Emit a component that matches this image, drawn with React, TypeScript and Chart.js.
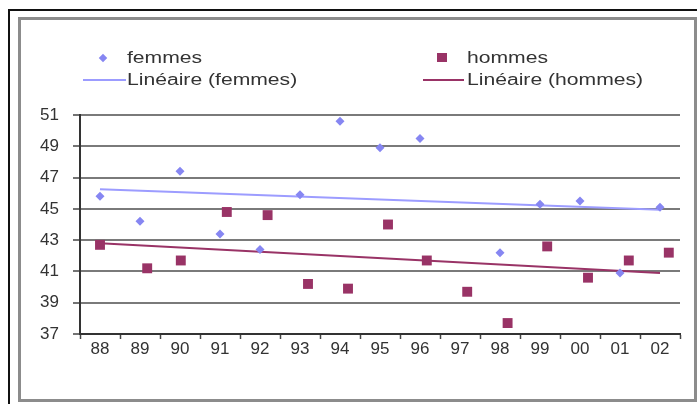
import React, { useEffect, useRef } from "react";
import { Chart, registerables } from "chart.js";

Chart.register(...registerables);

// ---- data ----
const categories = ["88", "89", "90", "91", "92", "93", "94", "95", "96", "97", "98", "99", "00", "01", "02"];
const femmesYears = [1988, 1989, 1990, 1991, 1992, 1993, 1994, 1995, 1996, 1998, 1999, 2000, 2001, 2002];
const femmesValues = [45.8, 44.2, 47.4, 43.4, 42.4, 45.9, 50.6, 48.9, 49.5, 42.2, 45.3, 45.5, 40.9, 45.1];
const hommesYears = [1988.0, 1989.18, 1990.02, 1991.17, 1992.19, 1993.2, 1994.2, 1995.2, 1996.17, 1997.18, 1998.19, 1999.18, 2000.2, 2001.22, 2002.22];
const hommesValues = [42.7, 41.2, 41.7, 44.8, 44.6, 40.2, 39.9, 44.0, 41.7, 39.7, 37.7, 42.6, 40.6, 41.7, 42.2];
const trendYears = [1988, 2002];
const trendFemmes = [46.25, 44.95];
const trendHommes = [42.8, 40.9];
const yMin = 37;
const yMax = 51;
const yStep = 2;

const labelFemmes = "femmes";
const labelHommes = "hommes";
const labelTrendFemmes = "Linéaire (femmes)";
const labelTrendHommes = "Linéaire (hommes)";

const colFemmes = "#8686f2";
const colTrendFemmes = "#9c9cff";
const colHommes = "#993366";

const zip = (xs: number[], ys: number[]) => xs.map((x, i) => ({ x, y: ys[i] }));

const FONT = "'Liberation Sans', Arial, sans-serif";

export default function App() {
  const ref = useRef<HTMLCanvasElement | null>(null);

  useEffect(() => {
    if (!ref.current) return;
    const chart = new Chart(ref.current, {
      type: "scatter",
      data: {
        labels: categories,
        datasets: [
          {
            label: labelFemmes,
            data: zip(femmesYears, femmesValues),
            xAxisID: "xv",
            yAxisID: "y",
            pointStyle: "rectRot",
            pointRadius: 4.5,
            backgroundColor: colFemmes,
            borderWidth: 0,
            showLine: false,
          },
          {
            label: labelHommes,
            data: zip(hommesYears, hommesValues),
            xAxisID: "xv",
            yAxisID: "y",
            pointStyle: "rect",
            pointRadius: 7,
            backgroundColor: colHommes,
            borderWidth: 0,
            showLine: false,
          },
          {
            label: labelTrendFemmes,
            data: zip(trendYears, trendFemmes),
            xAxisID: "xv",
            yAxisID: "y",
            showLine: true,
            pointRadius: 0,
            borderColor: colTrendFemmes,
            borderWidth: 2,
          },
          {
            label: labelTrendHommes,
            data: zip(trendYears, trendHommes),
            xAxisID: "xv",
            yAxisID: "y",
            showLine: true,
            pointRadius: 0,
            borderColor: colHommes,
            borderWidth: 2,
          },
        ],
      },
      options: {
        animation: false,
        responsive: false,
        layout: { padding: { top: 93, right: 14, left: 0, bottom: 0 } },
        plugins: { legend: { display: false }, tooltip: { enabled: false } },
        scales: {
          x: {
            type: "category",
            labels: categories,
            offset: true,
            position: "bottom",
            afterFit: (s: any) => {
              s.height = 64;
            },
            grid: {
              offset: true,
              drawOnChartArea: false,
              drawTicks: true,
              tickLength: 5,
              tickColor: "#444",
              tickWidth: 1.5,
            },
            border: { display: true, color: "#333", width: 2 },
            ticks: {
              autoSkip: false,
              maxRotation: 0,
              padding: 0,
              color: "#333",
              font: { family: FONT, size: 17 },
            },
          },
          xv: {
            type: "linear",
            display: false,
            position: "bottom",
            min: 1987.5,
            max: 2002.5,
          },
          y: {
            type: "linear",
            min: yMin,
            max: yMax,
            afterFit: (s: any) => {
              s.width = 58;
            },
            grid: {
              color: "#7a7a7a",
              lineWidth: 2,
              drawTicks: true,
              tickLength: 7,
              tickColor: "#444",
              tickWidth: 1.5,
            },
            border: { display: true, color: "#333", width: 2 },
            ticks: {
              stepSize: yStep,
              padding: 14,
              color: "#333",
              font: { family: FONT, size: 17 },
            },
          },
        },
      },
    });
    return () => chart.destroy();
  }, []);

  const textStyle: React.CSSProperties = {
    position: "absolute",
    fontFamily: FONT,
    fontSize: 16,
    color: "#333",
    lineHeight: "20px",
    whiteSpace: "nowrap",
    transform: "scaleX(1.32)",
    transformOrigin: "left center",
  };

  return (
    <div style={{ position: "fixed", left: 0, top: 0, width: 697, height: 404, background: "#fff", overflow: "hidden" }}>
      {/* outer dark frame */}
      <div style={{ position: "absolute", left: 8, top: 9, width: 700, height: 400, borderTop: "2px solid #111", borderLeft: "2px solid #111" }} />
      {/* inner grey frame */}
      <div
        style={{
          position: "absolute",
          left: 18,
          top: 17,
          width: 679,
          height: 385,
          boxSizing: "border-box",
          border: "3px solid #8c8c8c",
        }}
      />
      <canvas ref={ref} width={672} height={376} style={{ position: "absolute", left: 22, top: 22, width: 672, height: 376 }} />
      {/* legend */}
      <div style={{ position: "absolute", left: 99, top: 54, width: 8, height: 8, background: colFemmes, transform: "rotate(45deg) scale(0.75)" }} />
      <span style={{ ...textStyle, left: 127, top: 48 }}>{labelFemmes}</span>
      <div style={{ position: "absolute", left: 83, top: 79, width: 43, height: 2, background: colTrendFemmes }} />
      <span style={{ ...textStyle, left: 127, top: 70 }}>{labelTrendFemmes}</span>
      <div style={{ position: "absolute", left: 437, top: 53, width: 10, height: 9, background: colHommes }} />
      <span style={{ ...textStyle, left: 467, top: 48 }}>{labelHommes}</span>
      <div style={{ position: "absolute", left: 423, top: 79, width: 41, height: 2, background: colHommes }} />
      <span style={{ ...textStyle, left: 467, top: 70 }}>{labelTrendHommes}</span>
    </div>
  );
}
